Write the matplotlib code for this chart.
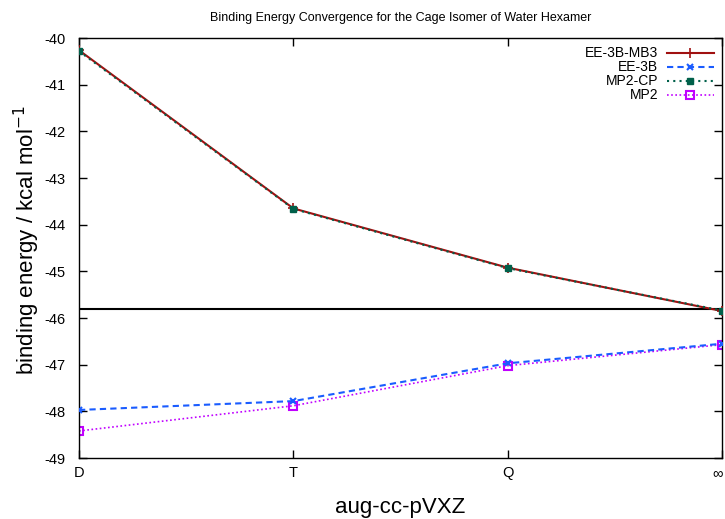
import matplotlib
matplotlib.use("Agg")
import matplotlib.pyplot as plt
from matplotlib.transforms import ScaledTranslation

basis = ["D", "T", "Q", "\u221e"]
ee3b_mb3 = [-40.26, -43.65, -44.92, -45.85]
ee3b = [-47.97, -47.78, -46.97, -46.55]
mp2_cp = [-40.28, -43.66, -44.93, -45.84]
mp2 = [-48.42, -47.88, -47.02, -46.57]
reference_line = -45.80

plt.rcParams["font.family"] = ["Liberation Sans", "DejaVu Sans"]
plt.rcParams["axes.unicode_minus"] = False
fig = plt.figure(figsize=(7.25, 5.19), dpi=100)
ax = fig.add_axes([0.109, 0.1175, 0.887, 0.809])
x = list(range(len(basis)))

ax.axhline(reference_line, color="black", lw=1.5, zorder=1)
ax.plot(x, ee3b_mb3, color="#a01010", lw=1.5, marker="+", ms=7, mew=1.2,
        label="EE-3B-MB3", zorder=3)
ax.plot(x, ee3b, color="#1a5cff", lw=1.5, ls=(0, (3, 2)), marker="x", ms=5,
        mew=1.5, label="EE-3B", zorder=3)
ax.plot(x, mp2_cp, color="#00604a", lw=1.5, ls=(0, (1, 2)), marker="s", ms=5,
        label="MP2-CP", zorder=4)
ax.plot(x, mp2, color="#c000ff", lw=1.2, ls=(0, (1, 1.5)), marker="s", ms=6,
        mfc="none", mew=1.5, label="MP2", zorder=2)

ax.set_xlim(0, 3)
ax.set_ylim(-49, -40)
ax.set_xticks(x)
ax.set_xticklabels(basis)
ax.set_yticks(range(-49, -39))
ax.tick_params(direction="in", top=True, right=True, labelsize=10.5,
               length=6, width=1)
ax.tick_params(axis="y", pad=10)
ax.tick_params(axis="x", pad=6)
for s in ax.spines.values():
    s.set_linewidth(1.0)
# keep the last label inside the figure
last = ax.get_xticklabels()[-1]
last.set_transform(last.get_transform()
                   + ScaledTranslation(-5 / 100, 0, fig.dpi_scale_trans))

ax.set_title("Binding Energy Convergence for the Cage Isomer of Water Hexamer",
             fontsize=9, pad=12)
ax.set_xlabel("aug-cc-pVXZ", fontsize=16, labelpad=12)
ax.set_ylabel("binding energy / kcal mol$^{-1}$", fontsize=16)
ax.yaxis.set_label_coords(-0.058, 0.52)

ax.legend(loc="upper right", frameon=False, markerfirst=False, fontsize=10,
          handlelength=3.4, labelspacing=0.0, borderaxespad=0.2,
          handletextpad=0.6)

fig.savefig("out.png", dpi=100)
